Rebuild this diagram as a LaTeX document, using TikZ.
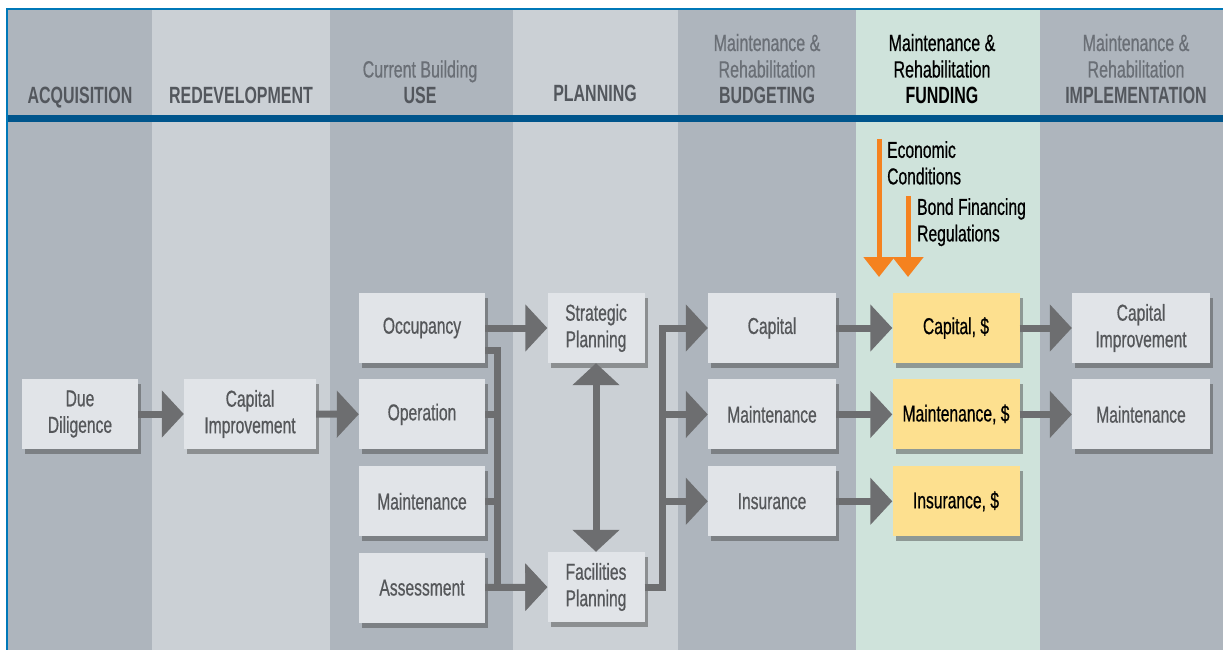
\documentclass[tikz,border=0pt]{standalone}
\usepackage{fontspec}
\setmainfont{Liberation Sans}[FakeStretch=0.68, UprightFeatures={FakeBold=0.6}]
\usetikzlibrary{arrows.meta,shadows,positioning}

\definecolor{colDark}{HTML}{AEB5BD}
\definecolor{colLight}{HTML}{CBD0D5}
\definecolor{colMint}{HTML}{CFE3DB}
\definecolor{bandBlue}{HTML}{00558C}
\definecolor{frameBlue}{HTML}{0078B8}
\definecolor{boxGray}{HTML}{E1E4E8}
\definecolor{boxYellow}{HTML}{FDE08F}
\definecolor{arrowGray}{HTML}{6D6E70}
\definecolor{arrowOrange}{HTML}{F5821F}
\definecolor{headGray}{HTML}{6A6F76}
\definecolor{headDark}{HTML}{53575D}
\definecolor{textGray}{HTML}{55575A}

\newcommand{\hbf}[1]{\textcolor{headDark}{\bfseries #1}}

\begin{document}
\begin{tikzpicture}[x=1pt, y=-1pt,
        head/.style={anchor=base, align=center, inner sep=0pt, text=headGray,
            font=\fontsize{23.5}{26.5}\selectfont},
        box/.style={fill=boxGray, text=textGray, align=center, inner sep=0pt,
            minimum height=70pt, font=\fontsize{23}{26.5}\selectfont,
            drop shadow={shadow xshift=3pt, shadow yshift=-5pt, opacity=0.45, fill=black!75}},
        fundbox/.style={box, fill=boxYellow, text=black, minimum width=127pt},
        note/.style={anchor=north west, align=left, inner sep=0pt, text=black,
            font=\fontsize{23}{26.5}\selectfont},
        line/.style={draw=arrowGray, line width=7pt},
        conn/.style={line, -{Triangle[length=22pt, width=46pt]}},
        dconn/.style={line, {Triangle[length=22pt, width=46pt]}-{Triangle[length=22pt, width=46pt]}},
        oconn/.style={draw=arrowOrange, line width=5pt, -{Triangle[length=20pt, width=30pt]}}]
    \useasboundingbox (0,0) rectangle (1223,650);
    \fill[white] (0,0) rectangle (1223,650);
    \foreach \xa/\xb/\col in {8/152/colDark, 152/330/colLight, 330/513/colDark,
            513/678/colLight, 678/856/colDark, 856/1040/colMint, 1040/1223/colDark}
        \fill[\col] (\xa,10) rectangle (\xb,650);
    \fill[bandBlue] (8,115) rectangle (1223,122);
    \draw[frameBlue, line width=2.5pt] (7,650) -- (7,9) -- (1223,9);

    \node[head] (hacq) at (80,104) {\hbf{ACQUISITION}};
    \node[head] (hredev) at (241,104) {\hbf{REDEVELOPMENT}};
    \node[head] (huse) at (420,104) {Current Building\\\hbf{USE}};
    \node[head] (hplan) at (595,102) {\hbf{PLANNING}};
    \node[head] (hbudget) at (767,104) {Maintenance \&\\Rehabilitation\\\hbf{BUDGETING}};
    \node[head, text=black] (hfund) at (942,104) {Maintenance \&\\Rehabilitation\\{\bfseries FUNDING}};
    \node[head] (himpl) at (1136,104) {Maintenance \&\\Rehabilitation\\\hbf{IMPLEMENTATION}};

    \node[box, minimum width=116pt] (duedil) at (80,414) {Due\\Diligence};
    \node[box, minimum width=132pt] (capimp) at (250,414) {Capital\\Improvement};

    \node[box, minimum width=126pt] (occ) at (422,328) {Occupancy};
    \node[box, minimum width=126pt, below=16pt of occ] (oper) {Operation};
    \node[box, minimum width=126pt, below=16.5pt of oper] (maint) {Maintenance};
    \node[box, minimum width=126pt, below=16pt of maint] (assess) {Assessment};

    \node[box, minimum width=97pt] (stratplan) at (596,328) {Strategic\\Planning};
    \node[box, minimum width=97pt] (facplan) at (596,587) {Facilities\\Planning};

    \node[box, minimum width=128pt] (budcap) at (772,328) {Capital};
    \node[box, minimum width=128pt, below=16pt of budcap] (budmaint) {Maintenance};
    \node[box, minimum width=128pt, below=16.5pt of budmaint] (budins) {Insurance};

    \node[fundbox] (fundcap) at (956,328) {Capital, \$};
    \node[fundbox, below=16pt of fundcap] (fundmaint) {Maintenance, \$};
    \node[fundbox, below=16.5pt of fundmaint] (fundins) {Insurance, \$};

    \node[box, minimum width=138pt] (implcap) at (1141,328) {Capital\\Improvement};
    \node[box, minimum width=138pt, below=16pt of implcap] (implmaint) {Maintenance};

    \coordinate (econtop) at (879,139);
    \coordinate (econend) at (879,277);
    \coordinate (bondtop) at (908,196);
    \coordinate (bondend) at (908,277);
    \draw[oconn] (econtop) -- (econend);
    \draw[oconn] (bondtop) -- (bondend);
    \node[note] (econ) at (887,141) {Economic\\Conditions};
    \node[note] (bond) at (917,198) {Bond Financing\\Regulations};

    \draw[conn] (duedil) -- (capimp);
    \draw[conn] (capimp) -- (oper);
    \draw[conn] (occ) -- (stratplan);
    \coordinate (busa) at ([xshift=12pt]occ.east);
    \draw[conn] ([yshift=-22pt]occ.east) -- ([yshift=-22pt]busa) |- (facplan);
    \draw[line] (oper.east) -- (oper.east -| busa);
    \draw[line] (maint.east) -- (maint.east -| busa);
    \draw[conn] (assess) -- (facplan);
    \draw[dconn] (stratplan) -- (facplan);

    \coordinate (busb) at ([xshift=18pt]facplan.east);
    \draw[conn] (facplan.east) -- (busb) |- (budcap);
    \draw[conn] (busb |- budmaint) -- (budmaint);
    \draw[conn] (busb |- budins) -- (budins);

    \draw[conn] (budcap) -- (fundcap);
    \draw[conn] (budmaint) -- (fundmaint);
    \draw[conn] (budins) -- (fundins);
    \draw[conn] (fundcap) -- (implcap);
    \draw[conn] (fundmaint) -- (implmaint);
\end{tikzpicture}
\end{document}
